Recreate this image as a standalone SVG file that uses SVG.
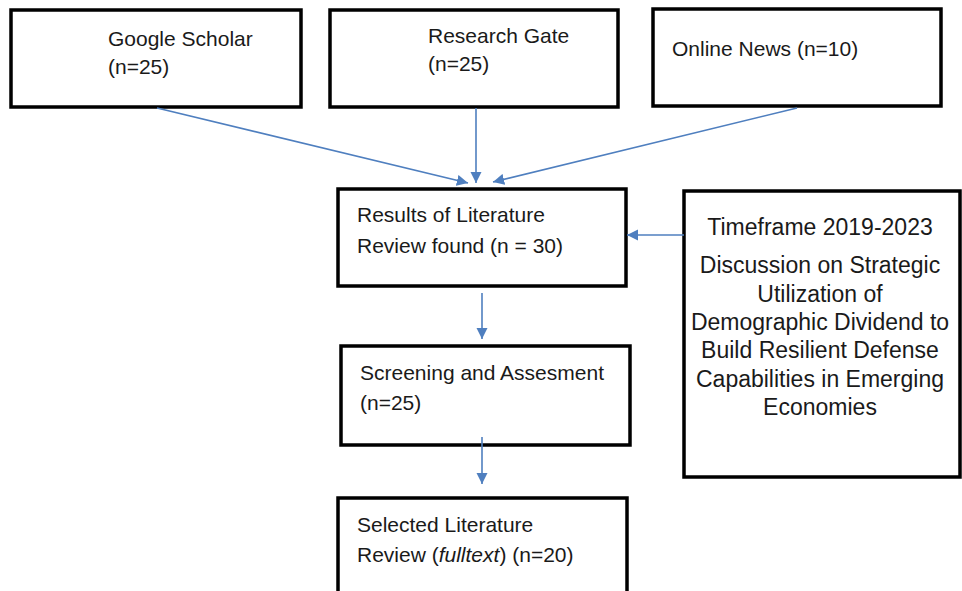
<svg xmlns="http://www.w3.org/2000/svg" width="962" height="591" viewBox="0 0 962 591">
<style>
.box{fill:#fff;stroke:#000;stroke-width:3.5}
.t{font-family:"Liberation Sans",Arial,sans-serif;font-size:21px;fill:#1a1a1a}
.c{text-anchor:middle;font-size:23px}
.conn{stroke:#4F7FBF;stroke-width:1.6;fill:none;marker-end:url(#ah)}
</style>
<defs>
<marker id="ah" viewBox="0 0 10 10" refX="10" refY="5" markerWidth="7" markerHeight="7" markerUnits="strokeWidth" orient="auto">
<path d="M0,0 L10,5 L0,10 Z" fill="#4F7FBF"/>
</marker>
</defs>
<rect width="962" height="591" fill="#fff"/>
<g id="google">
<rect class="box" x="11" y="10" width="290" height="97"/>
<text class="t" x="108" y="46">Google Scholar</text>
<text class="t" x="108" y="74">(n=25)</text>
</g>
<g id="research">
<rect class="box" x="330" y="10" width="288" height="97"/>
<text class="t" x="428" y="43">Research Gate</text>
<text class="t" x="428" y="71">(n=25)</text>
</g>
<g id="news">
<rect class="box" x="653" y="9" width="288" height="97"/>
<text class="t" x="672" y="56">Online News (n=10)</text>
</g>
<g id="results">
<rect class="box" x="338" y="189" width="288" height="97"/>
<text class="t" x="357" y="222">Results of Literature</text>
<text class="t" x="357" y="253">Review found (n = 30)</text>
</g>
<g id="timeframe">
<rect class="box" x="684" y="191" width="276" height="286"/>
<text class="t c" x="820" y="235">Timeframe 2019-2023</text>
<text class="t c" x="820" y="273">Discussion on Strategic</text>
<text class="t c" x="820" y="302">Utilization of</text>
<text class="t c" x="820" y="330">Demographic Dividend to</text>
<text class="t c" x="820" y="358">Build Resilient Defense</text>
<text class="t c" x="820" y="387">Capabilities in Emerging</text>
<text class="t c" x="820" y="415">Economies</text>
</g>
<g id="screening">
<rect class="box" x="341" y="346" width="289" height="99"/>
<text class="t" x="360" y="380">Screening and Assesment</text>
<text class="t" x="360" y="410">(n=25)</text>
</g>
<g id="selected">
<rect class="box" x="338" y="498" width="289" height="110"/>
<text class="t" x="357" y="532">Selected Literature</text>
<text class="t" x="357" y="562">Review (<tspan font-style="italic">fulltext</tspan>) (n=20)</text>
</g>
<g id="connectors">
<line class="conn" x1="157" y1="108" x2="468" y2="183"/>
<line class="conn" x1="476" y1="108" x2="476" y2="183"/>
<line class="conn" x1="797" y1="108" x2="493" y2="182"/>
<line class="conn" x1="684" y1="235" x2="627" y2="235"/>
<line class="conn" x1="482" y1="293" x2="482" y2="339"/>
<line class="conn" x1="482" y1="437" x2="482" y2="484"/>
</g>
</svg>
